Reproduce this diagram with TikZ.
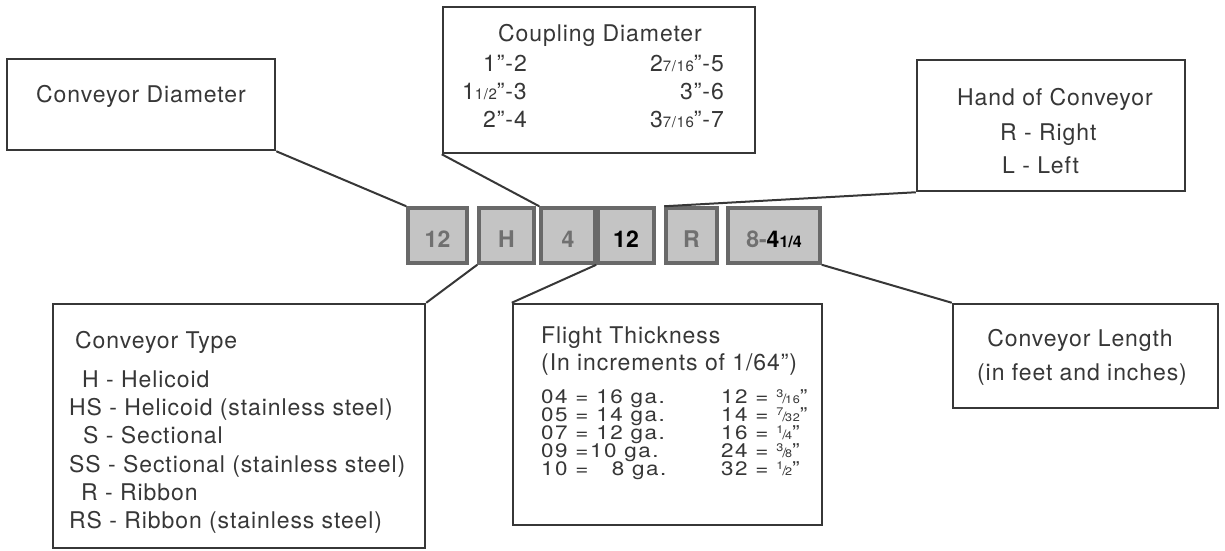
\documentclass[tikz,border=0pt]{standalone}
\usepackage{fontspec}
\setmainfont{TeX Gyre Heros}[LetterSpace=4]
\usepackage{tikz}

\definecolor{boxline}{RGB}{55,55,55}
\definecolor{textgray}{RGB}{55,55,55}
\definecolor{codeline}{RGB}{105,105,105}
\definecolor{codefill}{RGB}{196,196,196}
\definecolor{codetext}{RGB}{112,112,112}

% small fractions
\newcommand{\lowfr}[1]{{\fontsize{15}{15}\selectfont #1}}
\newcommand{\upfr}[2]{\raisebox{0.55ex}{\fontsize{11}{11}\selectfont #1}\kern-0.05em{\fontsize{13}{13}\selectfont /}\kern-0.08em{\fontsize{11}{11}\selectfont #2}}

\tikzset{
  labelbox/.style={draw=boxline, line width=2.5pt, fill=white, inner sep=0pt},
  codebox/.style={draw=codeline, line width=3.5pt, fill=codefill, minimum height=55pt,
    inner sep=0pt, text=codetext, text height=25pt, text depth=2pt,
    font=\fontsize{23}{26}\selectfont\bfseries\addfontfeature{LetterSpace=0}},
  txt/.style={inner sep=0pt, text=textgray, font=\fontsize{23}{26}\selectfont},
  tight/.style={align=left, font={\fontsize{19.5}{18}\selectfont\addfontfeature{FakeStretch=1.15,LetterSpace=8}\lineskiplimit=-50pt}},
  leader/.style={draw=boxline, line width=2pt}
}

\begin{document}
\begin{tikzpicture}[x=1pt,y=1pt,yscale=-1]
\useasboundingbox (0,0) rectangle (1225,550);

% code row
\node[codebox, minimum width=59pt] (cd1) at (437.5,235.5) {12};
\node[codebox, minimum width=55pt] (cd2) at (506.5,235.5) {H};
\node[codebox, minimum width=54pt] (cd3) at (568,235.5) {4};
\node[codebox, minimum width=56pt, text=black] (cd4) at (626,235.5) {12};
\node[codebox, minimum width=51pt] (cd5) at (691.5,235.5) {R};
\node[codebox, minimum width=92pt] (cd6) at (774,235.5) {8-\textcolor{black}{4{\fontsize{16}{16}\selectfont 1/4}}};

% label boxes
\node[labelbox, minimum width=268pt, minimum height=91pt] (diam) at (141,104.5) {};
\node[labelbox, minimum width=312pt, minimum height=146pt] (coup) at (599,80) {};
\node[labelbox, minimum width=268pt, minimum height=131pt] (hand) at (1051,125.5) {};
\node[labelbox, minimum width=372pt, minimum height=244pt] (ctype) at (239,426) {};
\node[labelbox, minimum width=309pt, minimum height=221pt] (flight) at (667.5,414.5) {};
\node[labelbox, minimum width=265pt, minimum height=104pt] (clen) at (1085.5,356) {};

% leaders
\draw[leader] (diam.south east) -- (cd1.north west);
\draw[leader] (coup.south west) -- (cd3.north west);
\draw[leader] (hand.south west) -- (cd5.north west);
\draw[leader] (ctype.north east) -- (cd2.south west);
\draw[leader] (flight.north west) -- (cd4.south west);
\draw[leader] (clen.north west) -- (cd6.south east);

% Conveyor Diameter
\node[txt, anchor=base] (diamT) at (141,102) {Conveyor Diameter};

% Coupling Diameter
\node[txt, anchor=base] (coupT) at (600,41) {Coupling Diameter};
\node[txt, anchor=base east] (coupA) at (527,71) {1''-2};
\node[txt, anchor=base east] (coupB) at (527,99) {1\lowfr{1/2}''-3};
\node[txt, anchor=base east] (coupC) at (527,127) {2''-4};
\node[txt, anchor=base east] (coupD) at (724,71) {2\lowfr{7/16}''-5};
\node[txt, anchor=base east] (coupE) at (724,99) {3''-6};
\node[txt, anchor=base east] (coupF) at (724,127) {3\lowfr{7/16}''-7};

% Hand of Conveyor
\node[txt, anchor=base] (handT) at (1055,105) {Hand of Conveyor};
\node[txt, anchor=base west] (handR) at (1000,140) {R - Right};
\node[txt, anchor=base west] (handL) at (1002,173) {L - Left};

% Conveyor Type
\node[txt, anchor=base west] (ctypeT) at (75,348) {Conveyor Type};
\node[txt, anchor=base west] (ctypeA) at (82,387) {H - Helicoid};
\node[txt, anchor=base west] (ctypeB) at (69,415) {HS - Helicoid (stainless steel)};
\node[txt, anchor=base west] (ctypeC) at (83,443) {S - Sectional};
\node[txt, anchor=base west] (ctypeD) at (69,472) {SS - Sectional (stainless steel)};
\node[txt, anchor=base west] (ctypeE) at (81,500) {R - Ribbon};
\node[txt, anchor=base west] (ctypeF) at (69,528) {RS - Ribbon (stainless steel)};

% Flight Thickness
\node[txt, anchor=base west] (flightT) at (541,343) {Flight Thickness};
\node[txt, anchor=base west] (flightS) at (541,370) {(In increments of 1/64'')};
\node[txt, tight, anchor=base west] (flLeft) at (541,475) {04 = 16 ga.\\05 = 14 ga.\\07 = 12 ga.\\09 =10 ga.\\10 = \ \ 8 ga.};
\node[txt, tight, anchor=base west] (flRight) at (721,475) {12 = \upfr{3}{16}''\\14 = \upfr{7}{32}''\\16 = \upfr{1}{4}''\\24 = \upfr{3}{8}''\\32 = \upfr{1}{2}''};

% Conveyor Length
\node[txt, anchor=base] (clenT) at (1080,346) {Conveyor Length};
\node[txt, anchor=base] (clenS) at (1082,380) {(in feet and inches)};

\end{tikzpicture}
\end{document}
